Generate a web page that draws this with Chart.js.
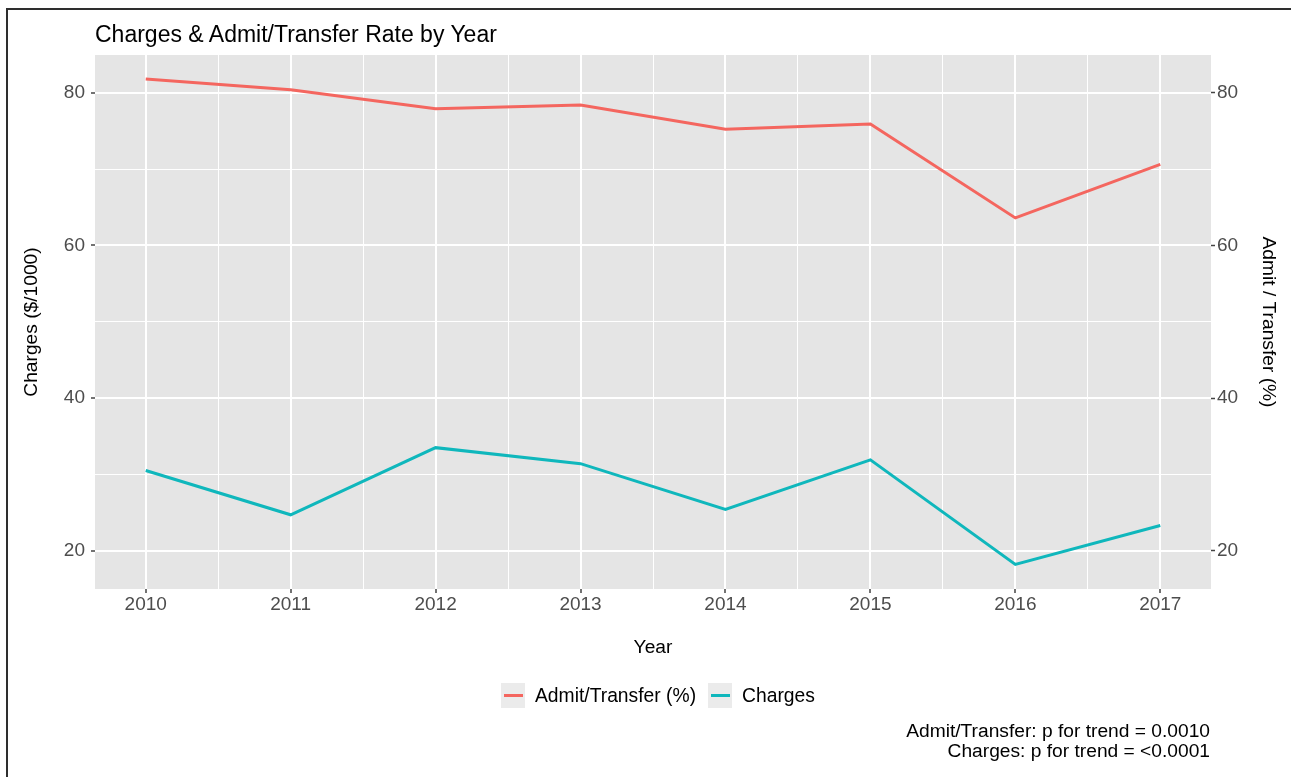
<!DOCTYPE html>
<html>
<head>
<meta charset="utf-8">
<script src="https://cdn.jsdelivr.net/npm/chart.js@4.4.1/dist/chart.umd.min.js"></script>
<style>
html,body{margin:0;padding:0;width:1291px;height:777px;overflow:hidden;background:#fff;font-family:"Liberation Sans",Arial,sans-serif;}
#wrap{position:relative;width:1291px;height:777px;}
canvas{position:absolute;left:0;top:0;}
#frame{position:absolute;left:6px;top:8px;width:1400px;height:900px;border:2px solid #2e2e2e;box-sizing:border-box;pointer-events:none;}
#title{position:absolute;left:95px;top:23px;font-size:23px;line-height:23px;color:#000;white-space:nowrap;}
#legend{position:absolute;top:683px;left:501px;height:25px;display:flex;align-items:center;white-space:nowrap;}
.key{width:24px;height:25px;background:#EBEBEB;position:relative;}
.key span{position:absolute;left:3px;right:2px;top:11px;height:3px;}
.lab{font-size:19.3px;line-height:20px;margin-left:10px;margin-right:12px;color:#000;}
#notes{position:absolute;right:81px;top:721px;font-size:19.2px;line-height:20px;text-align:right;color:#000;white-space:nowrap;}
</style>
</head>
<body>
<div id="wrap">
  <canvas id="c" width="1291" height="777"></canvas>
  <div id="frame"></div>
  <div id="title">Charges &amp; Admit/Transfer Rate by Year</div>
  <div id="legend"></div>
  <div id="notes">
    <div>Admit/Transfer: p for trend = 0.0010</div>
    <div>Charges: p for trend = &lt;0.0001</div>
  </div>
</div>
<script>
// ---- data ----
const years = [2010, 2011, 2012, 2013, 2014, 2015, 2016, 2017];
const admitTransfer = [81.8, 80.4, 77.9, 78.4, 75.2, 75.9, 63.6, 70.6];
const charges = [30.5, 24.7, 33.5, 31.4, 25.4, 31.9, 18.2, 23.3];
const seriesNames = ['Admit/Transfer (%)', 'Charges'];
const seriesColors = ['#F4665F', '#0FB7BC'];
const xTicks = [2010, 2011, 2012, 2013, 2014, 2015, 2016, 2017];
const xMinorTicks = [2010.5, 2011.5, 2012.5, 2013.5, 2014.5, 2015.5, 2016.5];
const yTicks = [20, 40, 60, 80];
const yMinorTicks = [30, 50, 70];

// ---- legend (HTML) ----
const legendEl = document.getElementById('legend');
seriesNames.forEach((n, i) => {
  const k = document.createElement('div'); k.className = 'key';
  const s = document.createElement('span'); s.style.background = seriesColors[i]; k.appendChild(s);
  const l = document.createElement('div'); l.className = 'lab'; l.textContent = n;
  legendEl.appendChild(k); legendEl.appendChild(l);
});

Chart.defaults.font.family = '"Liberation Sans", Arial, sans-serif';

const panelBg = {
  id: 'panelBg',
  beforeDraw(chart) {
    const {ctx, chartArea: a} = chart;
    ctx.save();
    ctx.fillStyle = '#E5E5E5';
    ctx.fillRect(a.left, a.top, a.right - a.left, a.bottom - a.top);
    ctx.restore();
  }
};

const xAll = xTicks.concat(xMinorTicks).sort((a, b) => a - b);
const yAll = yTicks.concat(yMinorTicks).sort((a, b) => a - b);
const isMajorX = v => xTicks.includes(v);
const isMajorY = v => yTicks.includes(v);
const Y_MIN = 14.98, Y_MAX = 84.94;
const tickFont = {size: 19};
const titleFont = {size: 19.2};

new Chart(document.getElementById('c'), {
  type: 'line',
  data: {
    datasets: [
      {
        label: seriesNames[0],
        data: years.map((y, i) => ({x: y, y: admitTransfer[i]})),
        borderColor: seriesColors[0], backgroundColor: seriesColors[0],
        borderWidth: 3, pointRadius: 0, tension: 0, yAxisID: 'y2'
      },
      {
        label: seriesNames[1],
        data: years.map((y, i) => ({x: y, y: charges[i]})),
        borderColor: seriesColors[1], backgroundColor: seriesColors[1],
        borderWidth: 3, pointRadius: 0, tension: 0, yAxisID: 'y'
      }
    ]
  },
  options: {
    responsive: false,
    animation: false,
    devicePixelRatio: 1,
    layout: {padding: {top: 55, left: 0, right: 0, bottom: 117.6}},
    plugins: {legend: {display: false}, title: {display: false}, tooltip: {enabled: false}},
    scales: {
      x: {
        type: 'linear', min: 2009.65, max: 2017.35,
        afterBuildTicks: s => { s.ticks = xAll.map(v => ({value: v})); },
        afterFit: s => { s.height = 70.4; },
        border: {display: false},
        grid: {
          color: '#FFFFFF',
          lineWidth: c => (c.tick && isMajorX(c.tick.value)) ? 2 : 1,
          tickColor: c => (c.tick && isMajorX(c.tick.value)) ? '#444444' : 'rgba(0,0,0,0)',
          tickWidth: 1.5, tickLength: 4
        },
        ticks: {
          autoSkip: false, maxRotation: 0, minRotation: 0, padding: 0,
          color: '#4D4D4D', font: tickFont,
          callback: v => isMajorX(v) ? String(v) : ''
        },
        title: {display: true, text: 'Year', color: '#000', font: titleFont, padding: {top: 0, bottom: 0}}
      },
      y: {
        type: 'linear', position: 'left', min: Y_MIN, max: Y_MAX,
        afterBuildTicks: s => { s.ticks = yAll.map(v => ({value: v})); },
        afterFit: s => { s.width = 95; },
        border: {display: false},
        grid: {
          color: '#FFFFFF',
          lineWidth: c => (c.tick && isMajorY(c.tick.value)) ? 2 : 1,
          tickColor: c => (c.tick && isMajorY(c.tick.value)) ? '#444444' : 'rgba(0,0,0,0)',
          tickWidth: 1.5, tickLength: 4
        },
        ticks: {
          padding: 6, color: '#4D4D4D', font: tickFont,
          callback: v => isMajorY(v) ? String(v) : ''
        },
        title: {display: true, text: 'Charges ($/1000)', color: '#000', font: titleFont, padding: {top: 20, bottom: 0}}
      },
      y2: {
        type: 'linear', position: 'right', min: Y_MIN, max: Y_MAX,
        afterBuildTicks: s => { s.ticks = yTicks.map(v => ({value: v})); },
        afterFit: s => { s.width = 80; },
        border: {display: false},
        grid: {drawOnChartArea: false, tickColor: '#444444', tickWidth: 1.5, tickLength: 4},
        ticks: {padding: 2, color: '#4D4D4D', font: tickFont, callback: v => String(v)},
        title: {display: true, text: 'Admit / Transfer (%)', color: '#000', font: titleFont, padding: {top: 11.6, bottom: 0}}
      }
    }
  },
  plugins: [panelBg]
});
</script>
</body>
</html>
